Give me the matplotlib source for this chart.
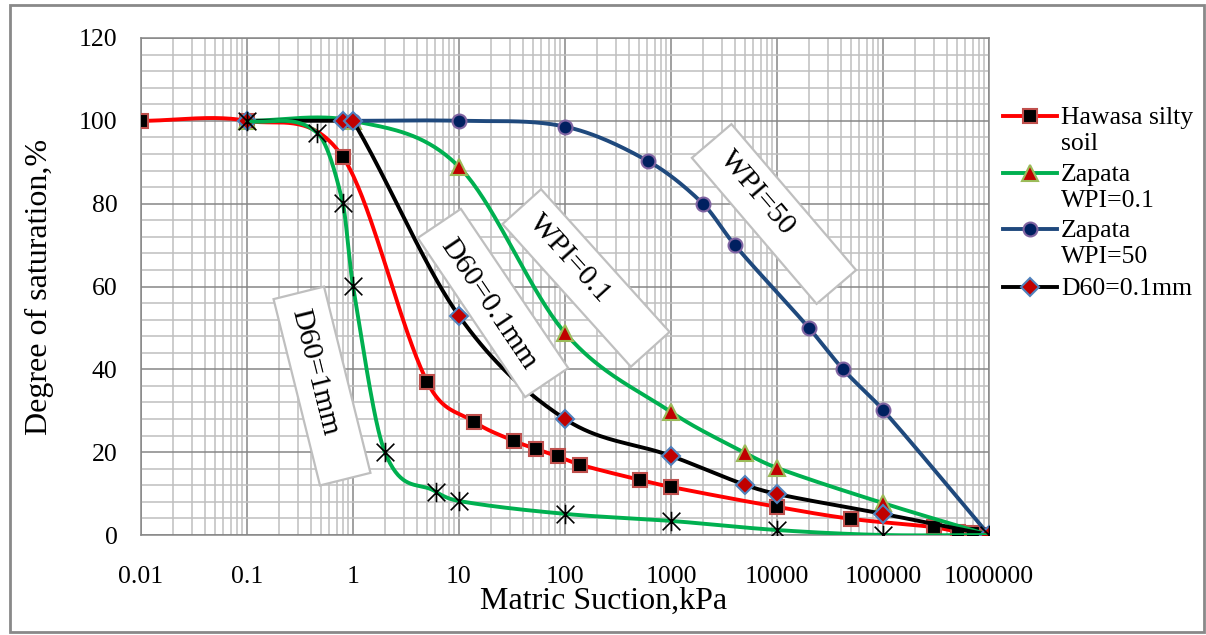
import numpy as np
import matplotlib
matplotlib.use("Agg")
import matplotlib.pyplot as plt
import matplotlib.transforms as mtransforms
from matplotlib.lines import Line2D
from matplotlib.patches import Rectangle
from matplotlib.path import Path
from matplotlib.ticker import MultipleLocator, LogLocator, NullFormatter

plt.rcParams["font.family"] = ["Liberation Serif", "DejaVu Serif"]

# data (suction kPa, saturation %)
hawasa_x = [0.01, 0.1, 0.8, 5, 14, 33, 53, 85, 138, 510, 1000, 10000, 50000, 300000, 510000, 700000, 1000000]
hawasa_y = [100, 100, 91.3, 37, 27.3, 22.7, 20.8, 19, 17, 13.3, 11.6, 6.8, 3.9, 1.9, 0.8, 0.5, 0]

wpi01_x = [0.1, 1, 10, 100, 1000, 5000, 10000, 100000, 1000000]
wpi01_y = [100, 100, 88.9, 48.8, 29.7, 19.8, 16.2, 7.7, 0]

wpi50_x = [1, 10, 100, 605, 2000, 4000, 20000, 42000, 100000, 1000000]
wpi50_y = [100, 100, 98.6, 90.3, 80, 70, 50, 40, 30.2, 0]

d01_x = [0.1, 0.8, 1, 10, 100, 1000, 5000, 10000, 100000, 1000000]
d01_y = [100, 100, 100, 52.9, 28, 19.1, 12.1, 9.9, 5.1, 0]

d1_x = [0.1, 0.46, 0.8, 1, 2, 6.1, 10, 100, 1000, 10000, 100000, 1000000]
d1_y = [100, 97.1, 80.2, 60.1, 20, 10.4, 8.2, 5.1, 3.4, 1.2, 0, 0]

xticks = [0.01, 0.1, 1, 10, 100, 1000, 10000, 100000, 1000000]
xtick_labels = ["0.01", "0.1", "1", "10", "100", "1000", "10000", "100000", "1000000"]
yticks = [0, 20, 40, 60, 80, 100, 120]


def smooth(xs, ys, n=40):
    # cubic hermite in log10(x), like the smoothed lines of a spreadsheet chart
    lx = np.log10(xs)
    y = np.asarray(ys, float)
    m = np.zeros_like(y)
    m[0] = (y[1] - y[0]) / (lx[1] - lx[0])
    m[-1] = (y[-1] - y[-2]) / (lx[-1] - lx[-2])
    for i in range(1, len(y) - 1):
        m[i] = (y[i + 1] - y[i - 1]) / (lx[i + 1] - lx[i - 1])
    t = np.linspace(0, 1, n)
    h00 = 2 * t**3 - 3 * t**2 + 1
    h10 = t**3 - 2 * t**2 + t
    h01 = -2 * t**3 + 3 * t**2
    h11 = t**3 - t**2
    ox, oy = [], []
    for i in range(len(y) - 1):
        d = lx[i + 1] - lx[i]
        ox.append(lx[i] + t * d)
        oy.append(h00 * y[i] + h10 * d * m[i] + h01 * y[i + 1] + h11 * d * m[i + 1])
    return 10 ** np.concatenate(ox), np.concatenate(oy)


# "x" with a vertical bar, as the spreadsheet star marker
star = Path([(-1, -1), (1, 1), (-1, 1), (1, -1), (0, -1.1), (0, 1.1)],
            [Path.MOVETO, Path.LINETO, Path.MOVETO, Path.LINETO, Path.MOVETO, Path.LINETO])

W, H = 1206, 635
fig = plt.figure(figsize=(W / 100, H / 100), dpi=100)
ax = fig.add_axes([141 / W, 1 - 535 / H, (989 - 141) / W, (535 - 38) / H])

styles = [
    (hawasa_x, hawasa_y, "#FF0000", dict(marker="s", ms=9.5, mfc="black", mec="#C0504D", mew=1.5)),
    (wpi01_x, wpi01_y, "#00B050", dict(marker="^", ms=11, mfc="#C00000", mec="#9BBB59", mew=1.5)),
    (wpi50_x, wpi50_y, "#1F497D", dict(marker="o", ms=10, mfc="#002060", mec="#8064A2", mew=1.5)),
    (d01_x, d01_y, "#000000", dict(marker="D", ms=9, mfc="#C00000", mec="#4F81BD", mew=1.5)),
    (d1_x, d1_y, "#00B050", dict(marker=star, ms=14, mfc="black", mec="black", mew=1.2)),
]
z = 3
for xs, ys, col, mk in styles:
    sx, sy = smooth(xs, ys)
    ax.plot(sx, sy, color=col, lw=2.8, zorder=z, solid_capstyle="round")
    ax.plot(xs, ys, ls="none", zorder=z + 0.5, **mk)
    z += 1

ax.set_xscale("log")
ax.set_xlim(0.01, 1000000)
ax.set_ylim(0, 120)
ax.set_xticks(xticks, xtick_labels)
ax.set_yticks(yticks)
ax.xaxis.set_minor_locator(LogLocator(base=10, subs=np.arange(2, 10), numticks=50))
ax.xaxis.set_minor_formatter(NullFormatter())
ax.yaxis.set_minor_locator(MultipleLocator(4))
ax.grid(True, which="major", color="#868686", lw=1.1)
ax.grid(True, which="minor", color="#BFBFBF", lw=1.1)
ax.set_axisbelow(True)
for s in ax.spines.values():
    s.set_color("#868686")
    s.set_linewidth(1.1)
ax.tick_params(which="both", length=0)
ax.tick_params(axis="x", labelsize=18.5, pad=22)
ax.tick_params(axis="y", labelsize=18.5, pad=17)
ax.set_xlabel("Matric Suction,kPa", fontsize=23)
ax.set_ylabel("Degree of saturation,%", fontsize=23)
ax.xaxis.set_label_coords(0.545, -0.105)
ax.yaxis.set_label_coords(-0.103, 0.5)


def px(x, y):
    return x / W, 1 - y / H


# rotated text boxes on the curves
boxes = [
    ("WPI=50", 774, 214, 757, 193, 49.5),
    ("WPI=0.1", 586, 278, 570, 259, 48),
    ("D60=0.1mm", 493, 303, 488, 304, 56),
    ("D60=1mm", 322, 386, 315, 372, 76),
]
for txt, bx, by, tx, ty, ang in boxes:
    tr = mtransforms.Affine2D().rotate_deg(-ang).translate(bx, H - by).scale(1 / W, 1 / H) + fig.transFigure
    fig.add_artist(Rectangle((-96, -26), 192, 52, facecolor="white", edgecolor="#BFBFBF", lw=1.6, transform=tr, zorder=10))
    fig.text(*px(tx, ty), txt, rotation=-ang, ha="center", va="center", rotation_mode="anchor",
             fontsize=21.5, zorder=11)

# legend
legend_items = [
    ("Hawasa silty\nsoil", 116, 0),
    ("Zapata\nWPI=0.1", 173, 1),
    ("Zapata\nWPI=50", 229, 2),
    ("D60=0.1mm", 287, 3),
]
for label, ly, k in legend_items:
    col, mk = styles[k][2], dict(styles[k][3])
    lx0, ly0 = px(1003, ly)
    lx1, _ = px(1057, ly)
    fig.add_artist(Line2D([lx0, (lx0 + lx1) / 2, lx1], [ly0] * 3, color=col, lw=2.8,
                          markevery=[1], **mk))
    fig.text(*px(1061, ly - 9), label, ha="left", va="top", fontsize=18.5, linespacing=1.22)

fig.add_artist(Rectangle((10 / W, 1 - 632 / H), 1194 / W, 627 / H, transform=fig.transFigure,
                         fill=False, edgecolor="#898989", lw=2))

fig.savefig("out.png", dpi=100)
